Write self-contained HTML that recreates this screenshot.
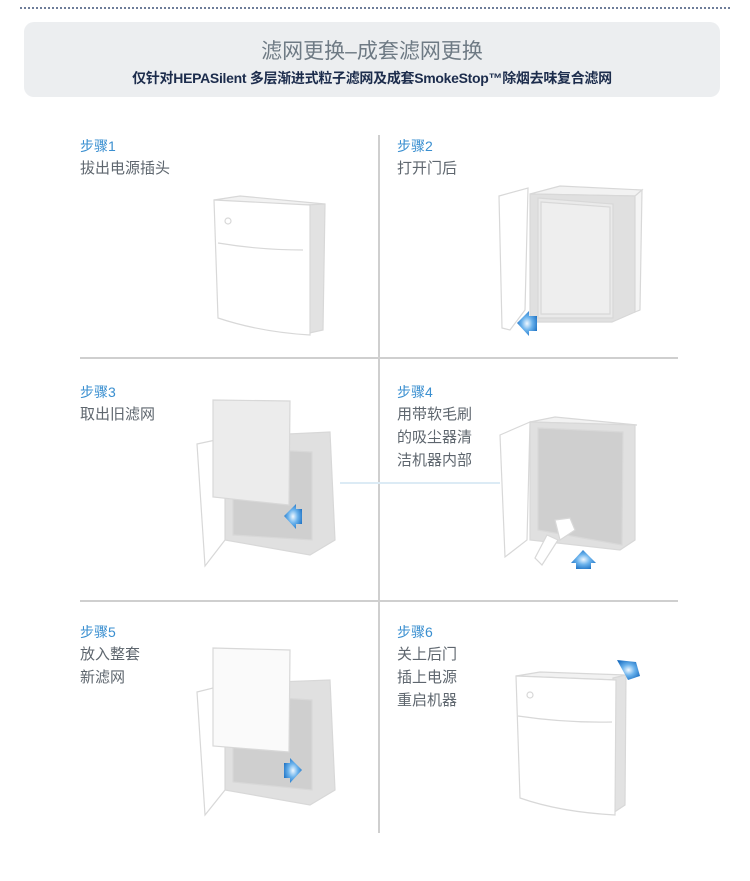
<!DOCTYPE html>
<html><head><meta charset="utf-8"><style>
body{margin:0;background:#fff;width:750px;height:881px;overflow:hidden;position:relative;font-family:"Liberation Sans","Noto Sans CJK SC",sans-serif}
.dot{position:absolute;left:20px;top:7px;width:710px;border-top:2px dotted #6e7d99}
.hdr{position:absolute;left:24px;top:22px;width:696px;height:75px;background:#eceef0;border-radius:10px;text-align:center}
.t1{position:absolute;left:0;right:0;top:13px;font-size:21px;color:#6e7a84}
.t2{position:absolute;left:0;right:0;top:46px;font-size:14px;color:#1c2c4c;font-weight:bold;letter-spacing:-0.3px}
.s{position:absolute;font-size:14px;color:#3a8fd0;line-height:20px}
.d{position:absolute;font-size:15px;color:#5e666e;line-height:23px}
svg{position:absolute;left:0;top:0}
</style></head><body>
<div class="dot"></div>
<div class="hdr"><div class="t1">滤网更换–成套滤网更换</div><div class="t2">仅针对HEPASilent 多层渐进式粒子滤网及成套SmokeStop™除烟去味复合滤网</div></div>
<div class="s" style="left:80px;top:136px">步骤1</div><div class="d" style="left:80px;top:157px">拔出电源插头</div>
<div class="s" style="left:397px;top:136px">步骤2</div><div class="d" style="left:397px;top:157px">打开门后</div>
<div class="s" style="left:80px;top:382px">步骤3</div><div class="d" style="left:80px;top:403px">取出旧滤网</div>
<div class="s" style="left:397px;top:382px">步骤4</div><div class="d" style="left:397px;top:403px">用带软毛刷<br>的吸尘器清<br>洁机器内部</div>
<div class="s" style="left:80px;top:622px">步骤5</div><div class="d" style="left:80px;top:643px">放入整套<br>新滤网</div>
<div class="s" style="left:397px;top:622px">步骤6</div><div class="d" style="left:397px;top:643px">关上后门<br>插上电源<br>重启机器</div>
<svg width="750" height="881" viewBox="0 0 750 881">
<defs><radialGradient id="g" cx="0.5" cy="0.5" r="0.6"><stop offset="0" stop-color="#f0f8ff"/><stop offset="0.45" stop-color="#6ab2ec"/><stop offset="1" stop-color="#176cc0"/></radialGradient></defs>
<g stroke="#cfcfcf" stroke-width="2"><line x1="379" y1="135" x2="379" y2="833"/><line x1="80" y1="358" x2="678" y2="358"/><line x1="80" y1="601" x2="678" y2="601"/></g>
<line x1="340" y1="483" x2="500" y2="483" stroke="#dcebf5" stroke-width="2"/>
<g stroke="#d8d8d8" stroke-width="1.2">
<path d="M214 200 L240 196 L325 204 L310 206Z" fill="#f2f2f2"/>
<path d="M305 205 L325 204 L323 330 L305 334Z" fill="#e2e2e2"/>
<path d="M214 200 L310 205 L310 335 Q260 332 218 318Z" fill="#fff"/>
<path d="M218 243 Q260 250 303 250" fill="none"/><circle cx="228" cy="221" r="3" fill="#fff"/>
<path d="M530 194 L560 186 L642 190 L635 196Z" fill="#f2f2f2"/>
<path d="M530 194 L635 196 L635 312 L612 322 L530 322Z" fill="#e0e0e0"/>
<path d="M538 198 L613 204 L613 318 L538 318Z" fill="#eaeaea"/>
<path d="M541 202 L610 207 L610 314 L541 314Z" fill="#eeeeee"/>
<path d="M499 196 L528 188 L525 310 L510 330 L502 328Z" fill="#fff"/>
<path d="M635 196 L642 190 L640 310 L635 312Z" fill="#f4f4f4"/>
<path d="M225 437 L330 432 L335 540 L310 555 L225 540Z" fill="#e0e0e0"/>
<path d="M233 448 L312 452 L312 540 L233 535Z" fill="#cfcfcf"/>
<path d="M197 444 L225 438 L225 540 L205 566Z" fill="#fff"/>
<path d="M213 400 L290 401 L289 505 L213 497Z" fill="#ececec"/>
<path d="M530 422 L555 417 L637 425 L635 425Z" fill="#f2f2f2"/>
<path d="M530 422 L635 425 L635 540 L620 550 L530 540Z" fill="#e0e0e0"/>
<path d="M538 428 L623 432 L622 545 L538 530Z" fill="#cfcfcf"/>
<path d="M500 435 L530 422 L527 540 L505 557Z" fill="#fff"/>
<path d="M555 520 L570 518 L575 530 L560 540Z" fill="#fff"/><path d="M547 535 L558 540 L542 565 L535 558Z" fill="#fff"/>
<path d="M225 684 L330 680 L335 790 L310 805 L225 790Z" fill="#e0e0e0"/>
<path d="M233 695 L312 700 L312 790 L233 782Z" fill="#cfcfcf"/>
<path d="M197 692 L225 685 L225 790 L205 815Z" fill="#fff"/>
<path d="M213 648 L290 650 L289 752 L213 746Z" fill="#fafafa"/>
<path d="M516 676 L540 672 L626 675 L616 680Z" fill="#f2f2f2"/>
<path d="M613 678 L626 675 L625 805 L613 813Z" fill="#e2e2e2"/>
<path d="M516 676 L616 680 L615 815 Q560 812 520 798Z" fill="#fff"/>
<path d="M518 716 Q565 723 612 722" fill="none"/><circle cx="530" cy="695" r="3" fill="#fff"/>
</g>
<g fill="url(#g)">
<path d="M517 323 L529 311 L529 316 L537 316 L537 331 L529 331 L529 336Z"/>
<path d="M284 516 L296 504 L296 509 L302 509 L302 524 L296 524 L296 529Z"/>
<path d="M571 563 L583 550 L596 563 L591 563 L591 569 L576 569 L576 563Z"/>
<path d="M302 770 L290 758 L290 763 L284 763 L284 778 L290 778 L290 783Z"/>
<path d="M617 660 L636 662 L640 676 L628 680Z"/>
</g>
</svg>
</body></html>
